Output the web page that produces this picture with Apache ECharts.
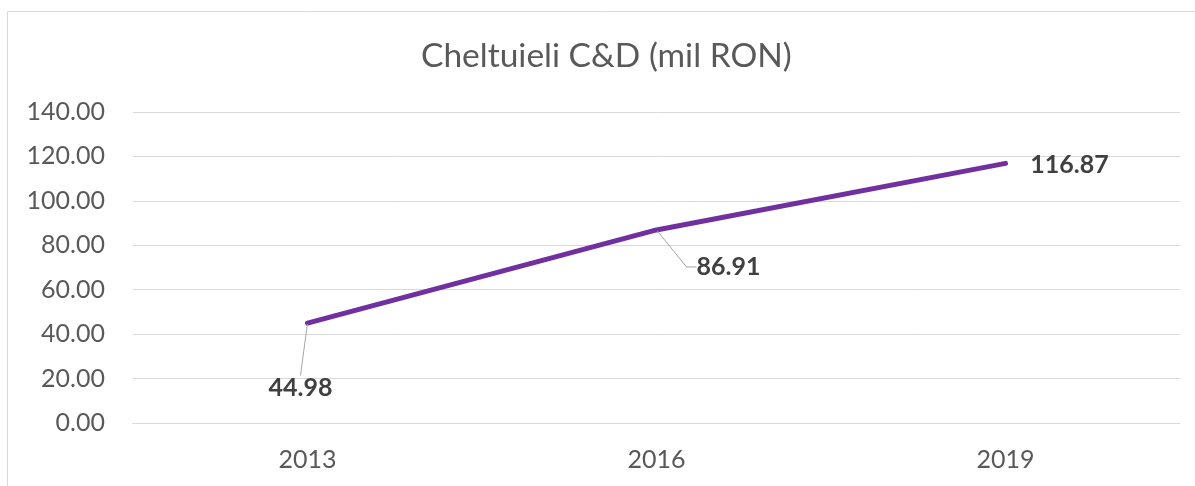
<!DOCTYPE html>
<html>
<head>
<meta charset="utf-8">
<title>Cheltuieli C&amp;D (mil RON)</title>
<script src="https://cdn.jsdelivr.net/npm/echarts@6/dist/echarts.min.js"></script>
<style>
  html, body { margin: 0; padding: 0; background: #ffffff; }
  #chart { width: 1195px; height: 486px; }
</style>
</head>
<body>
<div id="chart"></div>
<script>
// Research & development spending, million RON
const years = ['2013', '2016', '2019'];
const spending = [44.98, 86.91, 116.87];
const yTicks = [0, 20, 40, 60, 80, 100, 120, 140];

const FONT = 'Lato, "Liberation Sans", sans-serif';

// Where each value label sits relative to its point, the gap kept between
// the leader line and the text, and whether a leader line is drawn
const labelShift = [
  { dx: -7, dy: 65, pad: [10, 0, 0, 0], line: true },
  { dx: 67, dy: 37, pad: [0, 0, 0, 10], line: true },
  { dx: 64, dy: 2, pad: 0, line: false }
];

const chart = echarts.init(document.getElementById('chart'), null, { renderer: 'canvas' });

chart.setOption({
  backgroundColor: '#ffffff',
  animation: false,
  title: {
    text: 'Cheltuieli C&D (mil RON)',
    left: 416,
    top: 34,
    textStyle: { fontFamily: FONT, fontSize: 33.5, fontWeight: 'normal', color: '#595959' }
  },
  graphic: [{
    type: 'rect',
    shape: { x: 7.5, y: 11.5, width: 1220, height: 520 },
    style: { fill: 'none', stroke: '#d9d9d9', lineWidth: 1 },
    silent: true,
    z: -1
  }],
  grid: { left: 133, right: 15, top: 112, bottom: 63 },
  xAxis: {
    type: 'category',
    data: years,
    boundaryGap: true,
    axisLine: { show: true, lineStyle: { color: '#d9d9d9', width: 1 } },
    axisTick: { show: false },
    axisLabel: { fontFamily: FONT, fontSize: 25, color: '#595959', margin: 24 }
  },
  yAxis: {
    type: 'value',
    min: yTicks[0],
    max: yTicks[yTicks.length - 1],
    interval: yTicks[1] - yTicks[0],
    axisLine: { show: false },
    axisTick: { show: false },
    splitLine: { lineStyle: { color: '#d9d9d9', width: 1 } },
    axisLabel: {
      fontFamily: FONT, fontSize: 25, color: '#595959', margin: 28,
      formatter: v => v.toFixed(2)
    }
  },
  series: [{
    type: 'line',
    data: spending.map((v, i) => ({
      value: v,
      label: { padding: labelShift[i].pad },
      labelLine: { show: labelShift[i].line, length2: i === 0 ? 0 : 10 }
    })),
    showSymbol: true,
    symbol: 'circle',
    symbolSize: 2,
    lineStyle: { color: '#7030A0', width: 5, cap: 'round' },
    itemStyle: { color: '#7030A0' },
    label: {
      show: true,
      position: 'inside',
      fontFamily: FONT,
      fontSize: 25,
      fontWeight: 'bold',
      color: '#404040',
      formatter: p => p.value.toFixed(2)
    },
    labelLine: {
      show: true,
      length2: 10,
      minTurnAngle: 90,
      lineStyle: { color: '#a6a6a6', width: 1 }
    },
    labelLayout: p => ({ dx: labelShift[p.dataIndex].dx, dy: labelShift[p.dataIndex].dy })
  }]
});
</script>
</body>
</html>
